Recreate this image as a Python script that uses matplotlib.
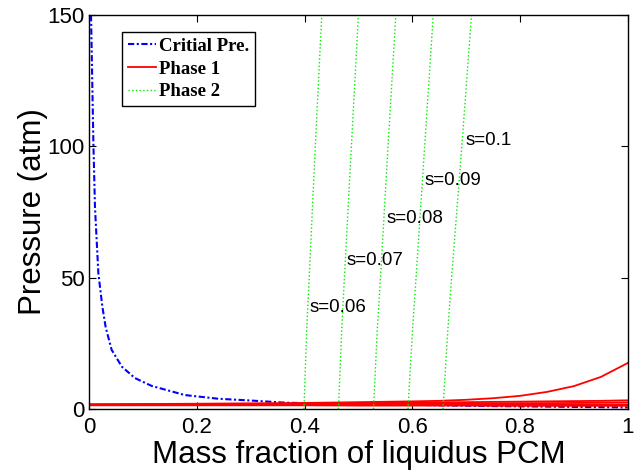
import matplotlib
matplotlib.use("Agg")
import matplotlib.pyplot as plt

# critical pressure curve
crit_x = [0.0037, 0.008, 0.011, 0.0173, 0.0247, 0.031, 0.042, 0.061, 0.085, 0.116,
          0.178, 0.240, 0.302, 0.364, 0.45, 0.55, 0.65, 0.75, 0.85, 0.95, 1.0]
crit_p = [150, 102, 77, 51.7, 39, 31, 22.5, 16.1, 11.8, 8.8,
          5.3, 3.9, 3.2, 2.4, 2.0, 1.7, 1.4, 1.1, 0.9, 0.7, 0.6]

# phase 1 curves
phase1_x = [0.0, 0.2, 0.4, 0.5, 0.6, 0.65, 0.7, 0.75, 0.8, 0.85, 0.9, 0.95, 1.0]
phase1_p = [
    [1.8, 2.0, 2.3, 2.6, 2.9, 3.1, 3.5, 4.1, 5.0, 6.5, 8.7, 12.2, 17.5],
    [1.7, 1.8, 2.0, 2.2, 2.4, 2.5, 2.6, 2.7, 2.8, 2.9, 3.0, 3.1, 3.3],
    [1.6, 1.7, 1.8, 1.9, 2.0, 2.05, 2.1, 2.15, 2.2, 2.25, 2.3, 2.4, 2.5],
    [1.5, 1.5, 1.5, 1.6, 1.6, 1.6, 1.6, 1.6, 1.6, 1.7, 1.7, 1.7, 1.7],
    [1.4, 1.4, 1.4, 1.3, 1.3, 1.3, 1.3, 1.2, 1.2, 1.2, 1.2, 1.2, 1.2],
]

# phase 2 lines, one per s
phase2_p = [0, 30, 50, 100, 150]
phase2_x = [
    [0.399, 0.404, 0.4087, 0.420, 0.432],
    [0.463, 0.469, 0.474, 0.487, 0.500],
    [0.528, 0.535, 0.541, 0.555, 0.5695],
    [0.592, 0.6005, 0.607, 0.623, 0.639],
    [0.657, 0.666, 0.673, 0.692, 0.710],
]
s_labels = ["s=0.06", "s=0.07", "s=0.08", "s=0.09", "s=0.1"]
s_label_x = [0.409, 0.478, 0.553, 0.623, 0.698]
s_label_y = [38.8, 56.7, 72.7, 87.2, 102.4]

x_ticks = [0, 0.2, 0.4, 0.6, 0.8, 1]
x_tick_labels = ["0", "0.2", "0.4", "0.6", "0.8", "1"]
y_ticks = [0, 50, 100, 150]

plt.rcParams["font.family"] = ["Liberation Sans", "DejaVu Sans"]

fig = plt.figure(figsize=(6.36, 4.72), dpi=100)
ax = fig.add_axes([0.14, 0.1335, 0.847, 0.8345])

crit_line, = ax.plot(crit_x, crit_p, color="#0000ff", linewidth=1.5,
                     linestyle=(0, (3, 1.2, 1, 1.2)), label="Critial Pre.")
for i, p in enumerate(phase1_p):
    line, = ax.plot(phase1_x, p, color="#ff0000", linewidth=1.3,
                    label="Phase 1" if i == 0 else None)
    if i == 0:
        phase1_line = line
for i, xs in enumerate(phase2_x):
    line, = ax.plot(xs, phase2_p, color="#00ee00", linestyle=":", linewidth=1.0,
                    label="Phase 2" if i == 0 else None)
    if i == 0:
        phase2_line = line
for lab, lx, ly in zip(s_labels, s_label_x, s_label_y):
    ax.text(lx, ly, lab, fontsize=13.5, va="center", ha="left")

ax.set_xlim(0, 1)
ax.set_ylim(0, 150)
ax.set_xticks(x_ticks)
ax.set_xticklabels(x_tick_labels)
ax.set_yticks(y_ticks)
ax.tick_params(direction="in", top=True, right=True, labelsize=16, length=5)
ax.tick_params(axis="x", pad=6)
ax.tick_params(axis="y", pad=3)
for side in ax.spines.values():
    side.set_linewidth(1.0)

ax.set_xlabel("Mass fraction of liquidus PCM", fontsize=22.5, labelpad=1)
ax.set_ylabel("Pressure (atm)", fontsize=22.5, labelpad=0)

leg = ax.legend(handles=[crit_line, phase1_line, phase2_line],
                loc="upper left", bbox_to_anchor=(0.061, 0.957),
                prop={"family": "Liberation Serif", "weight": "bold", "size": 13.5},
                frameon=True, fancybox=False, edgecolor="black", framealpha=1,
                handlelength=1.5, handletextpad=0.2, borderpad=0.3, labelspacing=0.3,
                borderaxespad=0)
leg.get_frame().set_linewidth(1.0)

fig.savefig("out.png", dpi=100)
